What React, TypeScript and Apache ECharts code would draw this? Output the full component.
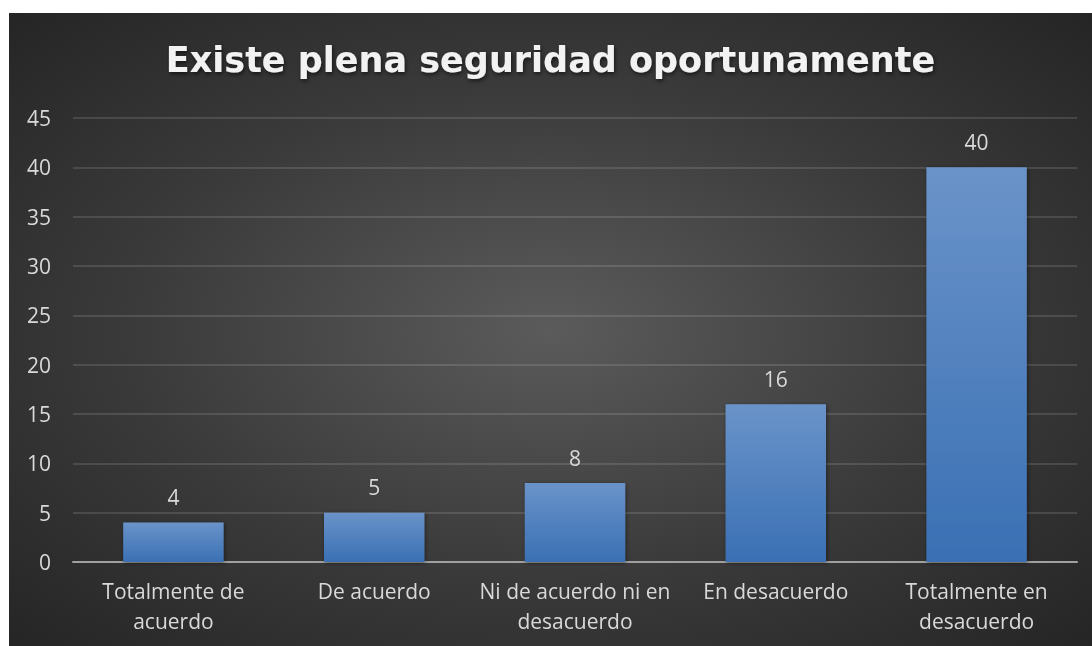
import React, { useEffect, useRef } from "react";
import * as echarts from "echarts";

const titleText = "Existe plena seguridad oportunamente";
const categories = [
  "Totalmente de\nacuerdo",
  "De acuerdo",
  "Ni de acuerdo ni en\ndesacuerdo",
  "En desacuerdo",
  "Totalmente en\ndesacuerdo",
];
const values = [4, 5, 8, 16, 40];
const yMin = 0;
const yMax = 45;
const yInterval = 5;

const FONT = "'Open Sans', 'Noto Sans', sans-serif";

export default function App() {
  const ref = useRef<HTMLDivElement>(null);
  useEffect(() => {
    if (!ref.current) return;
    const chart = echarts.init(ref.current, undefined, { renderer: "svg" });
    chart.setOption({
      animation: false,
      title: {
        text: titleText,
        left: "center",
        top: 24,
        padding: [5, 0, 5, 12],
        textStyle: {
          color: "#f2f2f2",
          fontFamily: "'DejaVu Sans', sans-serif",
          fontWeight: "bold",
          fontSize: 35,
          textShadowColor: "rgba(0,0,0,0.6)",
          textShadowBlur: 4,
          textShadowOffsetX: 1,
          textShadowOffsetY: 2,
        },
      },
      grid: { left: 64, right: 15, top: 105, bottom: 84, containLabel: false },
      xAxis: {
        type: "category",
        data: categories,
        axisLine: { show: true, lineStyle: { color: "#a0a0a0", width: 2 } },
        axisTick: { show: false },
        axisLabel: {
          color: "#d9d9d9",
          fontFamily: FONT,
          fontSize: 21,
          lineHeight: 30,
          margin: 14,
          interval: 0,
        },
      },
      yAxis: {
        type: "value",
        min: yMin,
        max: yMax,
        interval: yInterval,
        axisLine: { show: false },
        axisTick: { show: false },
        splitLine: { lineStyle: { color: "rgba(255,255,255,0.12)", width: 2 } },
        axisLabel: {
          color: "#d9d9d9",
          fontFamily: FONT,
          fontSize: 21,
          margin: 22,
        },
      },
      series: [
        {
          type: "bar",
          data: values,
          barWidth: "50%",
          itemStyle: {
            color: {
              type: "linear",
              x: 0,
              y: 0,
              x2: 0,
              y2: 1,
              colorStops: [
                { offset: 0, color: "#6a93c9" },
                { offset: 1, color: "#3a70b4" },
              ],
            },
            shadowColor: "rgba(0,0,0,0.45)",
            shadowBlur: 4,
            shadowOffsetX: 1,
            shadowOffsetY: 1,
          },
          label: {
            show: true,
            position: "top",
            distance: 15,
            color: "#d9d9d9",
            fontFamily: FONT,
            fontSize: 21,
          },
        },
      ],
    });
    return () => chart.dispose();
  }, []);
  return (
    <div
      ref={ref}
      style={{
        position: "fixed",
        left: 9,
        top: 13,
        width: 1083,
        height: 633,
        background:
          "radial-gradient(ellipse farthest-corner at 50% 50%, #5b5b5b 0%, #3a3a3a 55%, #252525 100%)",
      }}
    />
  );
}
